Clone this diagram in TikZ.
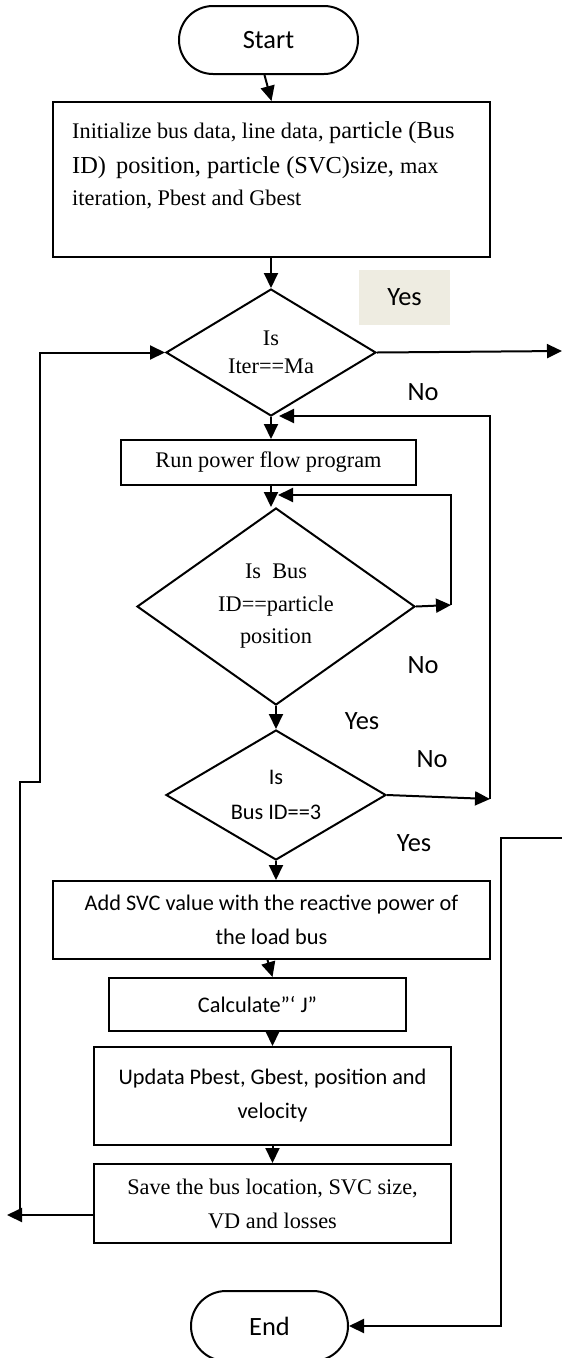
\documentclass[tikz,border=0pt]{standalone}
\usepackage{fontspec}
\setmainfont{Liberation Serif}
\newfontfamily\calib{Carlito}
\usetikzlibrary{shapes.geometric,arrows.meta}
\definecolor{tanbg}{HTML}{EEECE1}
\tikzset{
  ln/.style={line width=2pt},
  arr/.style={ln, -{Triangle[length=15pt,width=14pt]}},
  box/.style={draw, ln, rectangle, inner sep=0pt, align=center},
  term/.style={draw, ln, rectangle, inner sep=0pt, font=\calib\fontsize{26.4}{30}\selectfont},
  dia/.style={draw, ln, diamond, inner sep=0pt, align=center},
  serifb/.style={font=\fontsize{22.3}{34}\selectfont},
  sansb/.style={font=\calib\fontsize{22.3}{34}\selectfont},
  lab/.style={font=\calib\fontsize{26.4}{30}\selectfont, inner sep=0pt},
}
\begin{document}
\begin{tikzpicture}[x=1pt,y=-1pt]
\useasboundingbox (0,0) rectangle (562,1358);

% terminals
\node[term, rounded corners=34pt, minimum width=179pt, minimum height=68pt] (start) at (268.5,40) {Start};
\node[term, rounded corners=35pt, minimum width=157pt, minimum height=70pt] (end) at (269.5,1326) {End};

% init box
\node[box, minimum width=437pt, minimum height=155pt] (init) at (271.5,179.5) {};
\node[anchor=base west, inner sep=0pt] (i1) at (72,138) {\fontsize{22.3}{34}\selectfont Initialize bus data, line data, \fontsize{24.4}{34}\selectfont particle (Bus};
\node[anchor=base west, inner sep=0pt] (i2) at (72,173) {\fontsize{24.4}{34}\selectfont ID)\, position, particle (SVC)size, \fontsize{22.3}{34}\selectfont max};
\node[anchor=base west, inner sep=0pt] (i3) at (72,205) {\fontsize{22.3}{34}\selectfont iteration, Pbest and Gbest};

% decisions
\node[dia, aspect=1.65, minimum width=210pt, minimum height=127pt, font=\fontsize{22.3}{28}\selectfont] (d1) at (271,352.5) {Is\\Iter==Ma};
\node[box, serifb, minimum width=295pt, minimum height=45pt] (run) at (268.5,462.5) {Run power flow program};
\node[dia, aspect=1.41, minimum width=278pt, minimum height=197pt, font=\fontsize{22.3}{32.5}\selectfont] (d2) at (276,606.5) {Is\ \ Bus\\ID==particle\\position};
\node[dia, aspect=1.69, minimum width=220pt, minimum height=130pt, font=\calib\fontsize{22.3}{35}\selectfont] (d3) at (276,795) {Is\\Bus ID==3};

% process boxes
\node[box, sansb, minimum width=437pt, minimum height=78pt] (add) at (271.5,920) {Add SVC value with the reactive power of\\the load bus};
\node[box, sansb, minimum width=297pt, minimum height=53pt] (calc) at (257.5,1004.5) {Calculate”‘ J”};
\node[box, sansb, minimum width=357pt, minimum height=98pt] (upd) at (272.5,1096) {Updata Pbest, Gbest, position and\\velocity};
\node[box, serifb, minimum width=357pt, minimum height=79pt] (save) at (272.5,1203.5) {Save the bus location, SVC size,\\VD and losses};

% labels
\node[lab, fill=tanbg, minimum width=91pt, minimum height=55pt] (yesbox) at (404.5,297.5) {Yes};
\node[lab] (no1) at (423,392) {No};
\node[lab] (no2) at (423,665) {No};
\node[lab] (yes2) at (362,721) {Yes};
\node[lab] (no3) at (432,759) {No};
\node[lab] (yes3) at (414,843) {Yes};

% coordinates
\coordinate (yesR) at (562,351);
\coordinate (r1) at (490,799);
\coordinate (r1t) at (279,416);
\coordinate (r2) at (451,605);
\coordinate (r2t) at (278,495);
\coordinate (lArr) at (7,1215);
\coordinate (lb) at (20,1215);
\coordinate (lm1) at (20,782);
\coordinate (lm2) at (40,782);
\coordinate (br0) at (562,838);
\coordinate (br1) at (501,838);

% main flow
\draw[arr] ([xshift=-4pt]start.south) -- (init.north);
\draw[arr] (init.south -| d1.south) -- (d1.north);
\draw[arr] (d1.south) -- (d1.south |- run.north);
\draw[arr] (d1.south |- run.south) -- (d1.south |- d2.north);
\draw[arr] (d2.south) -- (d2.south |- d3.north);
\draw[arr] (d3.south) -- (d3.south |- add.north);
\draw[arr] ([xshift=-4pt]add.south) -- (upd.north |- calc.north);
\draw[arr] (upd.north |- calc.south) -- (upd.north);
\draw[arr] (upd.south) -- (save.north);

% branches
\draw[arr] (d1.east) -- (yesR);
\draw[arr] (d2.east) -- (r2);
\draw[arr] (r2) |- (r2t);
\draw[arr] (d3.east) -- (r1);
\draw[arr] (r1) |- (r1t);
\draw[arr] (save.west |- lArr) -- (lArr);
\draw[arr] (lb) -- (lm1) -- (lm2) |- (d1.west);
\draw[arr] (br0) -- (br1) |- (end.east);
\end{tikzpicture}
\end{document}
